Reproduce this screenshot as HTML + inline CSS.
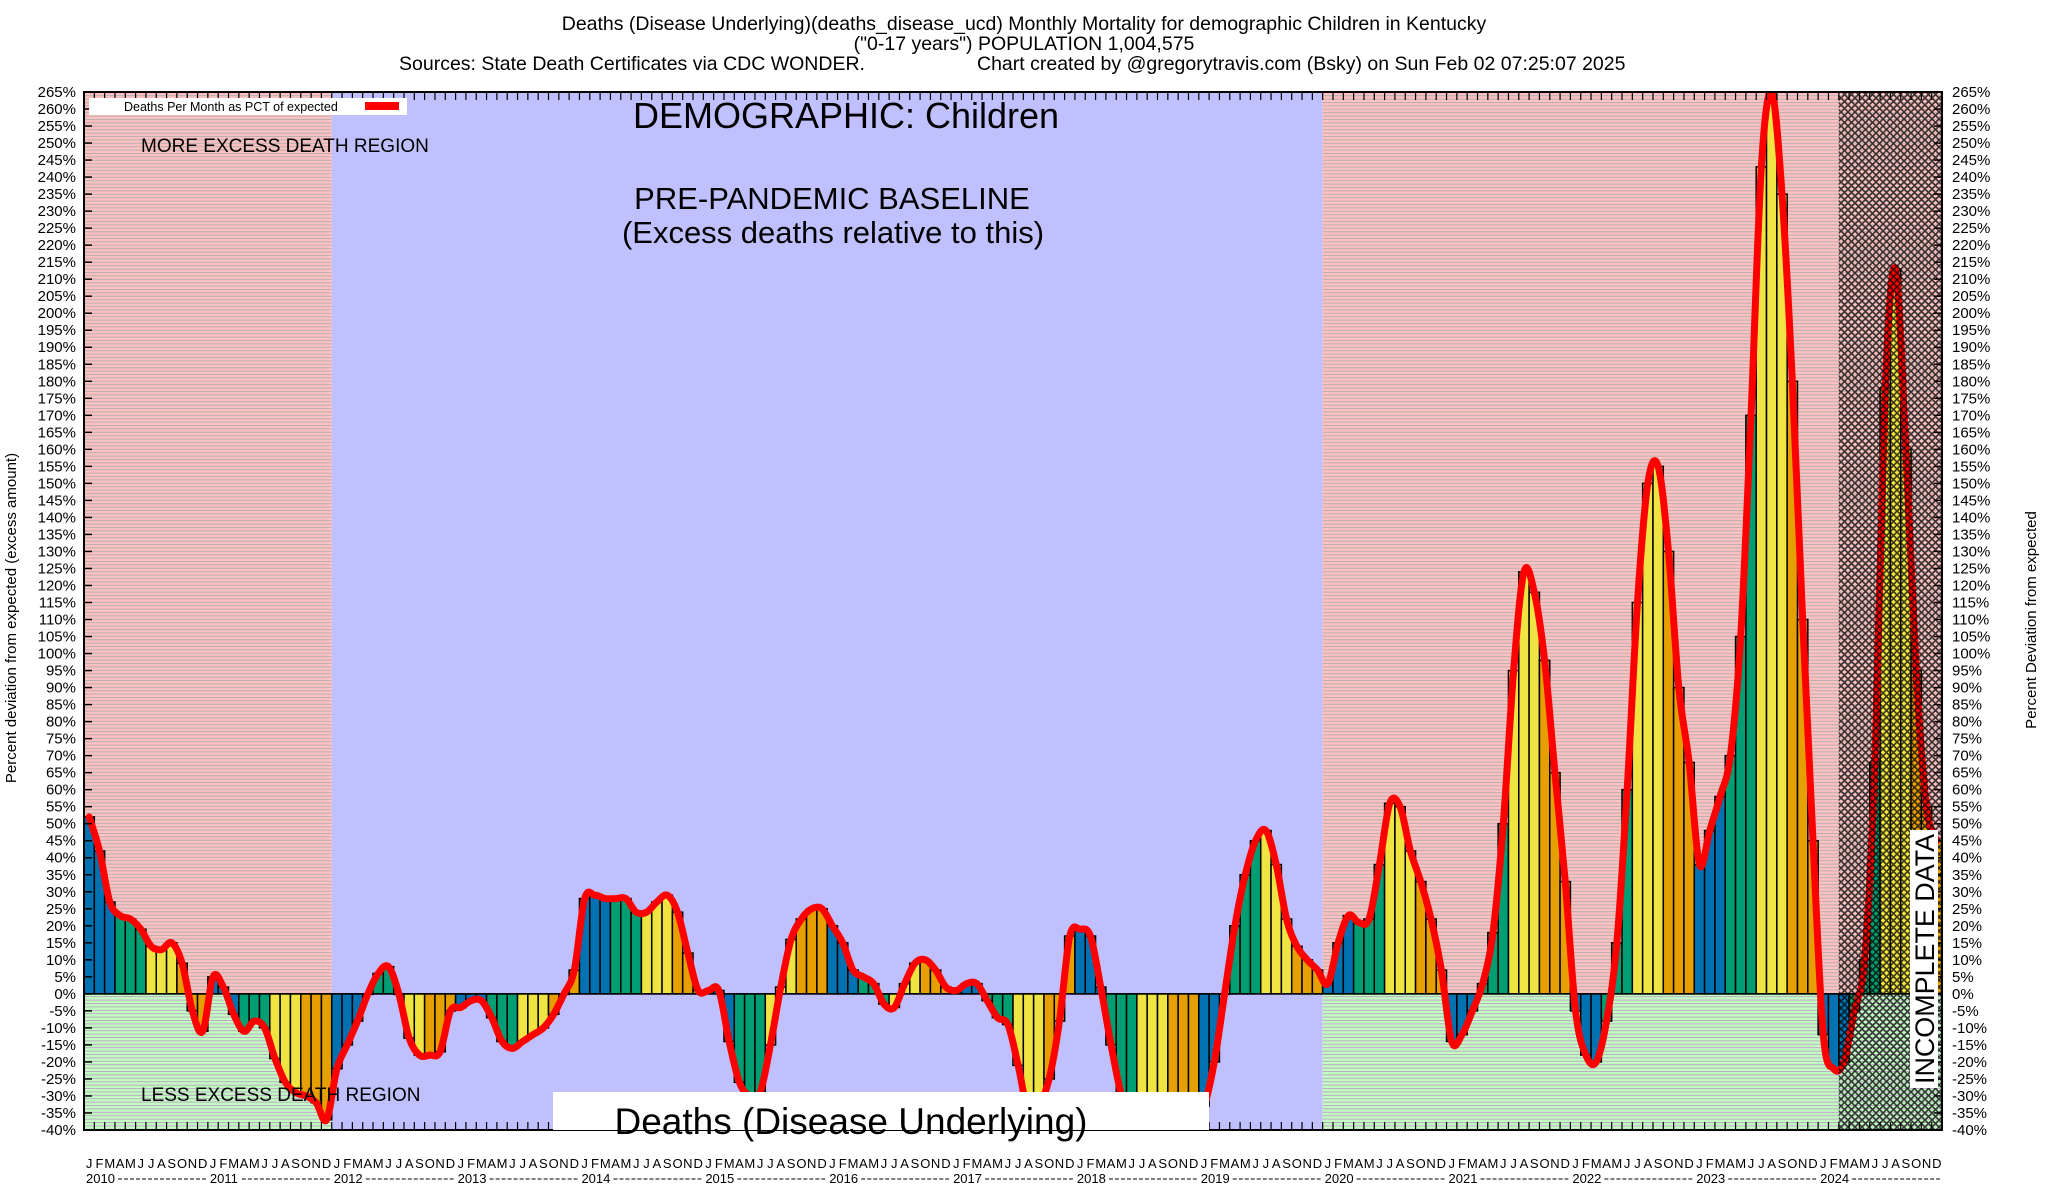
<!DOCTYPE html>
<html><head><meta charset="utf-8">
<style>
html,body{margin:0;padding:0;background:#fff;}
svg{display:block;font-family:"Liberation Sans",Arial,sans-serif;}
</style></head>
<body>
<svg id="chart" width="2048" height="1200" viewBox="0 0 2048 1200" xmlns="http://www.w3.org/2000/svg">
<defs>
<pattern id="pinkStripe" width="8" height="3.4" patternUnits="userSpaceOnUse"><rect width="8" height="3.4" fill="#ffc0c0"/><rect y="0" width="8" height="1" fill="#b8b0b0"/></pattern>
<pattern id="greenStripe" width="8" height="3.4" patternUnits="userSpaceOnUse"><rect width="8" height="3.4" fill="#c0ffc0"/><rect y="0" width="8" height="1" fill="#c0a8c8"/></pattern>
<pattern id="hatch" width="7" height="7" patternUnits="userSpaceOnUse"><path d="M0,0 L7,7 M7,0 L0,7" stroke="#000" stroke-width="1.6" opacity="0.75"/></pattern>
<clipPath id="plotClip"><rect x="84" y="92" width="1858" height="1038"/></clipPath>
</defs>
<g id="title" font-size="19.5" text-anchor="middle">
<text x="1024" y="30">Deaths (Disease Underlying)(deaths_disease_ucd) Monthly Mortality for demographic Children in Kentucky</text>
<text x="1024" y="50">("0-17 years") POPULATION 1,004,575</text>
<text x="399" y="70" text-anchor="start">Sources: State Death Certificates via CDC WONDER.</text>
<text x="977" y="70" text-anchor="start">Chart created by @gregorytravis.com (Bsky) on Sun Feb 02 07:25:07 2025</text>
</g>
<g id="bg"></g>
<g id="bars" clip-path="url(#plotClip)"></g>
<g id="line" clip-path="url(#plotClip)"></g>
<g id="hatchg"></g>
<g id="axes"></g>
<g id="annot"></g>
</svg>
<script>
const NS="http://www.w3.org/2000/svg";
const years=["2010","2011","2012","2013","2014","2015","2016","2017","2018","2019","2020","2021","2022","2023","2024"];
const monthLetters=["J","F","M","A","M","J","J","A","S","O","N","D"];
const yTicks=[265,260,255,250,245,240,235,230,225,220,215,210,205,200,195,190,185,180,175,170,165,160,155,150,145,140,135,130,125,120,115,110,105,100,95,90,85,80,75,70,65,60,55,50,45,40,35,30,25,20,15,10,5,0,-5,-10,-15,-20,-25,-30,-35,-40];
const values=[
52,42,27,23,22,19,14,13,15,9,-5,-11,
5,2,-6,-11,-8,-10,-19,-26,-29,-30,-32,-37,
-22,-15,-8,0,6,8,0,-13,-18,-18,-17,-5,
-4,-2,-2,-7,-14,-16,-14,-12,-10,-6,0,7,
28,29,28,28,28,24,24,27,29,24,12,1,
1,1,-14,-26,-30,-29,-15,2,16,22,25,25,
20,15,7,5,3,-3,-4,3,9,10,7,2,
1,3,3,-2,-7,-9,-21,-35,-33,-25,-8,17,
19,17,2,-15,-30,-40,-42,-43,-42,-41,-40,-36,
-33,-20,0,20,35,45,48,38,22,14,10,7,
3,15,23,21,22,38,56,55,42,33,22,7,
-14,-12,-5,3,18,50,95,124,118,98,65,33,
-5,-18,-20,-8,15,60,115,150,155,130,90,68,
38,48,58,70,105,170,243,265,235,180,110,45,
-12,-22,-20,-5,10,68,178,213,160,95,55,45];
const barColors=["#0072b2","#009e73","#f0e442","#e69f00"];
const X0=84,X1=1942,YT=92,YB=1130,VMAX=265,VMIN=-40;
const MW=(X1-X0)/values.length;
function xMonth(i){return X0+i*MW;}
function xCenter(i){return X0+(i+0.5)*MW;}
function yVal(v){return YT+(VMAX-v)/(VMAX-VMIN)*(YB-YT);}
function mk(tag,attrs,parent){const e=document.createElementNS(NS,tag);for(const k in attrs)e.setAttribute(k,attrs[k]);parent.appendChild(e);return e;}
const bg=document.getElementById('bg');
const y0=yVal(0);
function region(i0,i1,kind,name){
  if(kind==="blue"){const r=mk('rect',{x:xMonth(i0),y:YT,width:xMonth(i1)-xMonth(i0),height:YB-YT,fill:"#c0c0ff"},bg);
  
  }
  else{const a=mk('rect',{x:xMonth(i0),y:YT,width:xMonth(i1)-xMonth(i0),height:y0-YT,fill:"url(#pinkStripe)"},bg);
  
  
  const b=mk('rect',{x:xMonth(i0),y:y0,width:xMonth(i1)-xMonth(i0),height:YB-y0,fill:"url(#greenStripe)"},bg);
  
  }
}
region(0,24,"stripe","region-2010-2011");
region(24,120,"blue","baseline-region");
region(120,180,"stripe","region-2020-2024");
const bars=document.getElementById('bars');
values.forEach((v,i)=>{
  const y=yVal(v);const top=Math.min(y,y0),h=Math.abs(y-y0);
  const r=mk('rect',{x:xMonth(i),y:top,width:MW,height:Math.max(h,0.5),fill:barColors[Math.floor((i%12)/3)],stroke:"#000","stroke-width":1.5},bars);
  
  
});
const zl=mk('line',{x1:X0,x2:X1,y1:y0,y2:y0,stroke:"#000","stroke-width":1.5},bars);


const pts=values.map((v,i)=>[xCenter(i),yVal(v)]);
let d="M"+pts[0][0]+","+pts[0][1];
for(let i=0;i<pts.length-1;i++){
  const p0=pts[Math.max(i-1,0)],p1=pts[i],p2=pts[i+1],p3=pts[Math.min(i+2,pts.length-1)];
  const c1=[p1[0]+(p2[0]-p0[0])/6,p1[1]+(p2[1]-p0[1])/6];
  const c2=[p2[0]-(p3[0]-p1[0])/6,p2[1]-(p3[1]-p1[1])/6];
  d+=" C"+c1[0]+","+c1[1]+" "+c2[0]+","+c2[1]+" "+p2[0]+","+p2[1];
}
const ln=mk('path',{d:d,fill:"none",stroke:"#ff0000","stroke-width":7,"stroke-linejoin":"round","stroke-linecap":"round"},document.getElementById('line'));


const hr=mk('rect',{x:xMonth(170),y:YT,width:X1-xMonth(170),height:YB-YT,fill:"url(#hatch)"},document.getElementById('hatchg'));


const ax=document.getElementById('axes');
const fr=mk('rect',{x:X0,y:YT,width:X1-X0,height:YB-YT,fill:"none",stroke:"#000","stroke-width":2},ax);


yTicks.forEach(t=>{
  const y=yVal(t);
  mk('line',{x1:X0,x2:X0+8,y1:y,y2:y,stroke:"#000","stroke-width":1.5},ax);
  mk('line',{x1:X1-8,x2:X1,y1:y,y2:y,stroke:"#000","stroke-width":1.5},ax);
  const l=mk('text',{x:X0-8,y:y+5,"text-anchor":"end","font-size":15},ax);l.textContent=t+"%";
  
  
  const r=mk('text',{x:X1+10,y:y+5,"font-size":15},ax);r.textContent=t+"%";
  
  
});
values.forEach((v,i)=>{
  const x=xMonth(i);
  mk('line',{x1:x,x2:x,y1:YT,y2:YT+8,stroke:"#000","stroke-width":1.2},ax);
  mk('line',{x1:x,x2:x,y1:YB-8,y2:YB,stroke:"#000","stroke-width":1.2},ax);
  const m=mk('text',{x:xCenter(i),y:1168,"text-anchor":"middle","font-size":13},ax);m.textContent=monthLetters[i%12];
  
  
});
years.forEach((yr,k)=>{
  const x=xMonth(k*12);
  const t=mk('text',{x:x+2,y:1183,"font-size":13},ax);t.textContent=yr;
  
  
  const dsh=mk('line',{x1:x+34,x2:x+12*MW-2,y1:1179,y2:1179,stroke:"#000","stroke-width":1,"stroke-dasharray":"4,2"},ax);
  
  
});
</script>
<svg style="position:absolute;left:0;top:0" width="2048" height="1200" font-family="Liberation Sans, Arial, sans-serif">
<text x="16" y="618" transform="rotate(-90 16 618)" text-anchor="middle" font-size="15">Percent deviation from expected (excess amount)</text>
<text x="2036" y="620" transform="rotate(-90 2036 620)" text-anchor="middle" font-size="15">Percent Deviation from expected</text>
<g>
<rect x="89" y="98" width="318" height="17" fill="#fff"/>
<text x="124" y="111" font-size="12.5">Deaths Per Month as PCT of expected</text>
<rect x="365" y="102" width="34" height="8" fill="#ff0000"/>
</g>
<text x="846" y="128" text-anchor="middle" font-size="36">DEMOGRAPHIC: Children</text>
<text x="141" y="152" font-size="19">MORE EXCESS DEATH REGION</text>
<text x="832" y="209" text-anchor="middle" font-size="31">PRE-PANDEMIC BASELINE</text>
<text x="833" y="243" text-anchor="middle" font-size="31">(Excess deaths relative to this)</text>
<text x="141" y="1101" font-size="19">LESS EXCESS DEATH REGION</text>
<rect x="553" y="1092" width="656" height="38" fill="#fff"/>
<text x="851" y="1134" text-anchor="middle" font-size="37">Deaths (Disease Underlying)</text>
<rect x="1910" y="830" width="28" height="258" fill="#fff"/>
<text x="0" y="0" transform="translate(1934 959) rotate(-90)" text-anchor="middle" font-size="27" textLength="250" lengthAdjust="spacingAndGlyphs">INCOMPLETE DATA</text>
</svg>
</body></html>
